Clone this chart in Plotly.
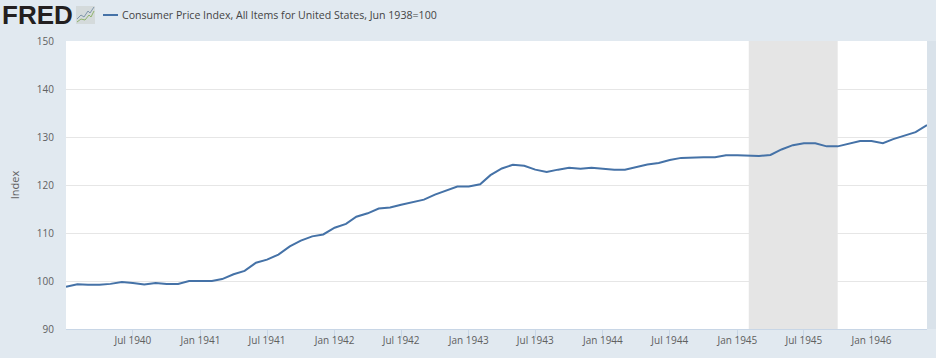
import plotly.graph_objects as go
import pandas as pd

SERIES_NAME = "Consumer Price Index, All Items for United States, Jun 1938=100"
START_MONTH = "1940-01-01"
cpi_values = [
    98.8, 99.3, 99.2, 99.2, 99.4, 99.8, 99.6, 99.25, 99.6, 99.4, 99.4, 100.0,
    100.0, 100.0, 100.4, 101.4, 102.1, 103.8, 104.45, 105.5, 107.2, 108.4, 109.3, 109.7,
    111.1, 111.9, 113.4, 114.1, 115.1, 115.3, 115.9, 116.5, 116.95, 118.0, 118.85, 119.7,
    119.7, 120.15, 122.05, 123.45, 124.2, 124.0, 123.2, 122.7, 123.2, 123.6, 123.4, 123.6,
    123.4, 123.2, 123.2, 123.8, 124.25, 124.6, 125.2, 125.65, 125.8, 125.8, 125.8, 126.2,
    126.2, 126.05, 126.05, 126.25, 127.4, 128.3, 128.7, 128.7, 128.05, 128.05, 128.6, 129.15,
    129.15, 128.7, 129.55, 130.35, 131.0, 132.5,
]
months = pd.date_range(START_MONTH, periods=len(cpi_values), freq="MS")

x_ticks = ["1940-07-01", "1941-01-01", "1941-07-01", "1942-01-01", "1942-07-01", "1943-01-01",
           "1943-07-01", "1944-01-01", "1944-07-01", "1945-01-01", "1945-07-01", "1946-01-01"]
y_ticks = [90, 100, 110, 120, 130, 140, 150]
recession = ("1945-02-01", "1945-10-01")

W, H = 936, 358
L, R, T, B = 66, 9, 41, 29
PW, PH = W - L - R, H - T - B
def px(x): return (x - L) / PW
def py(y): return (H - B - y) / PH

BG = "#e1e9f0"
LINE = "#4572a7"
FONT = "Open Sans, sans-serif"

fig = go.Figure()
fig.add_trace(go.Scatter(x=months, y=cpi_values, mode="lines", name=SERIES_NAME,
                         line=dict(color=LINE, width=2), showlegend=False, hoverinfo="x+y"))

fig.update_layout(
    width=W, height=H, margin=dict(l=L, r=R, t=T, b=B, autoexpand=False),
    paper_bgcolor=BG, plot_bgcolor="#ffffff",
    font=dict(family=FONT, size=11, color="#666666"),
    xaxis=dict(range=[months[0], months[-1]], tickmode="array", tickvals=x_ticks, automargin=False,
               tickformat="%b %Y", ticks="outside", ticklen=8, tickwidth=1, tickcolor="#c8d6e6",
               showgrid=False, showline=True, linecolor="#c8d6e6", linewidth=1, ticklabelstandoff=-6,
               tickfont=dict(size=10, color="#606060"), zeroline=False),
    yaxis=dict(range=[90, 150], tickmode="array", tickvals=y_ticks, showgrid=True, automargin=False,
               gridcolor="#e6e6e6", gridwidth=1, zeroline=False, showline=False,
               ticks="outside", ticklen=9, tickcolor="rgba(0,0,0,0)",
               tickfont=dict(size=10, color="#606060"),
               title=dict(text="Index", font=dict(size=11, color="#606060"), standoff=14)),
)

shapes = [
    dict(type="rect", xref="x", yref="y", x0=recession[0], x1=recession[1], y0=90, y1=150,
         fillcolor="#e5e5e5", line_width=0, layer="between"),
    dict(type="rect", xref="paper", yref="paper", x0=px(927), x1=px(936), y0=py(41), y1=py(329),
         fillcolor="#d9e2ea", line_width=0, layer="above"),
    dict(type="line", xref="paper", yref="paper", x0=px(103), x1=px(118), y0=py(15), y1=py(15),
         line=dict(color=LINE, width=2)),
    dict(type="rect", xref="paper", yref="paper", x0=px(76), x1=px(95), y0=py(6), y1=py(24),
         fillcolor="#d4dadb", line_width=0),
    dict(type="path", xref="paper", yref="paper",
         path=f"M {px(77)} {py(19)} L {px(81)} {py(15)} L {px(84)} {py(17)} L {px(88)} {py(11)} L {px(90)} {py(13)} L {px(94)} {py(7)}",
         line=dict(color="#7f96ab", width=1)),
    dict(type="path", xref="paper", yref="paper",
         path=f"M {px(77)} {py(22)} L {px(81)} {py(19)} L {px(85)} {py(20)} L {px(89)} {py(15)} L {px(91)} {py(17)} L {px(94)} {py(11)}",
         line=dict(color="#8fb36d", width=1)),
]
fig.update_layout(shapes=shapes)
fig.add_annotation(text="<b>FRED</b>", xref="paper", yref="paper", x=px(0), y=py(15), xanchor="left",
                   yanchor="middle", showarrow=False,
                   font=dict(family="Liberation Sans, sans-serif", size=26, color="#231f20"))
fig.add_annotation(text=SERIES_NAME, xref="paper", yref="paper", x=px(120), y=py(15), xanchor="left",
                   yanchor="middle", showarrow=False, font=dict(size=10.6, color="#444444"))

fig.write_html("out.html", config=dict(displayModeBar=False),
               post_script="document.body.style.margin='0';document.body.style.background='#e1e9f0';")
